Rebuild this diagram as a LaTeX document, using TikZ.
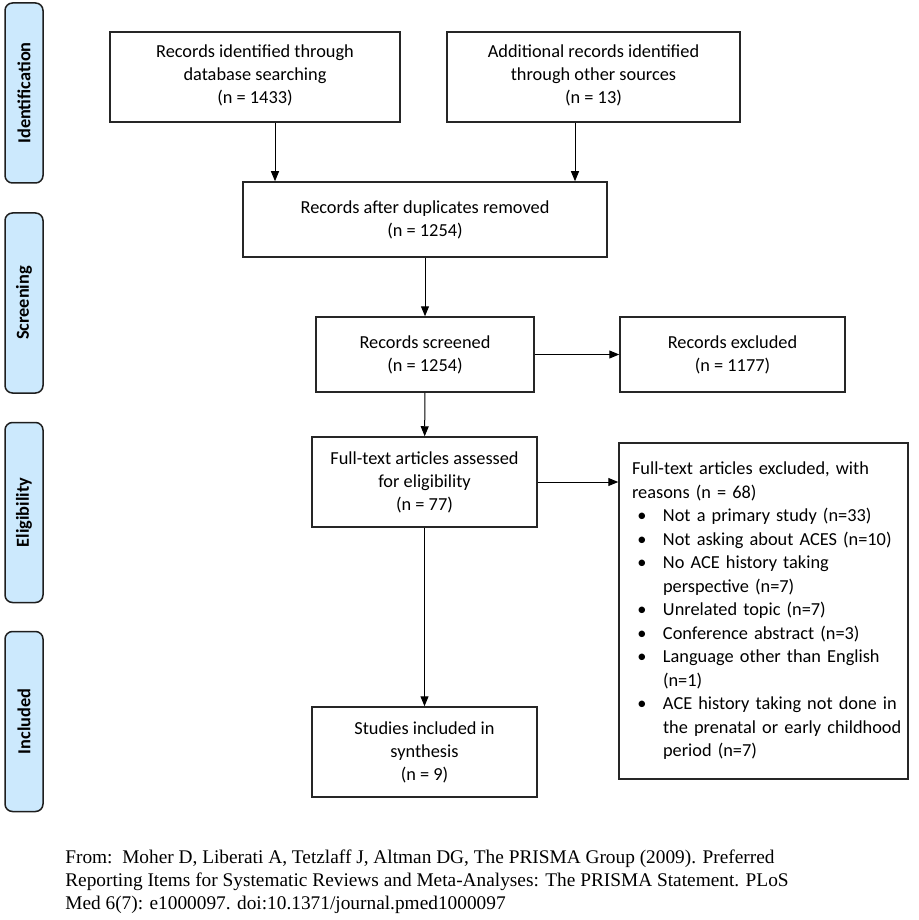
\documentclass[tikz,border=0pt]{standalone}
\usepackage{fontspec}
\setmainfont{Carlito}
\newfontfamily\timesfont{Liberation Serif}
\usetikzlibrary{arrows.meta}
\definecolor{sidefill}{RGB}{204,233,253}
\definecolor{sidedraw}{RGB}{30,30,30}
\tikzset{
  box/.style={draw=black!85, line width=0.9pt, align=center, inner sep=2pt,
    font=\fontsize{11pt}{13.8pt}\selectfont},
  side/.style={draw=sidedraw, fill=sidefill, line width=0.9pt, rounded corners=4.5pt,
    minimum width=108pt, minimum height=22.8pt, rotate=90,
    font=\bfseries\fontsize{11pt}{13.6pt}\selectfont},
  arr/.style={line width=0.6pt, -{Triangle[length=6pt,width=4.8pt]}},
}
\begin{document}
\begin{tikzpicture}[x=0.6pt,y=-0.6pt]
\useasboundingbox (0,0) rectangle (918,920);
% phase labels
\node[side] (sid) at (24,93) {Identification};
\node[side] (ssc) at (24,303) {Screening};
\node[side] (sel) at (24,512.5) {Eligibility};
\node[side] (sin) at (24,721.5) {Included};
% boxes
\node[box, minimum width=174pt, minimum height=54pt, text depth=4pt] (b1) at (255,77)
  {Records identified through\\database searching\\(n = 1433)};
\node[box, minimum width=175.8pt, minimum height=54pt, text depth=4pt] (b2) at (593.5,77)
  {Additional records identified\\through other sources\\(n = 13)};
\node[box, minimum width=218.4pt, minimum height=45pt] (dup) at (425,219.5)
  {Records after duplicates removed\\(n = 1254)};
\node[box, minimum width=130.8pt, minimum height=45pt] (scr) at (425,354.5)
  {Records screened\\(n = 1254)};
\node[box, minimum width=135pt, minimum height=45pt] (exc) at (732.5,354.5)
  {Records excluded\\(n = 1177)};
\node[box, minimum width=135pt, minimum height=54pt] (ass) at (424.5,482)
  {Full-text articles assessed\\for eligibility\\(n = 77)};
\node[box, minimum width=135pt, minimum height=54pt] (inc) at (424.5,752)
  {Studies included in\\synthesis\\(n = 9)};
\node[box, align=left, text width=157.8pt, inner xsep=7.8pt, inner ysep=0pt,
  minimum height=201.6pt] (fte) at (763.5,611)
  {\fontsize{11pt}{14.1pt}\selectfont
   \begin{tabular}{@{}l@{}l@{}}
   \multicolumn{2}{@{}l@{}}{Full-text articles excluded, with}\\
   \multicolumn{2}{@{}l@{}}{reasons (n = 68)}\\
   \makebox[18.6pt][l]{\hspace{3.2pt}\textbullet} & Not a primary study (n=33)\\
   \makebox[18.6pt][l]{\hspace{3.2pt}\textbullet} & Not asking about ACES (n=10)\\
   \makebox[18.6pt][l]{\hspace{3.2pt}\textbullet} & No ACE history taking\\
    & perspective (n=7)\\
   \makebox[18.6pt][l]{\hspace{3.2pt}\textbullet} & Unrelated topic (n=7)\\
   \makebox[18.6pt][l]{\hspace{3.2pt}\textbullet} & Conference abstract (n=3)\\
   \makebox[18.6pt][l]{\hspace{3.2pt}\textbullet} & Language other than English\\
    & (n=1)\\
   \makebox[18.6pt][l]{\hspace{3.2pt}\textbullet} & ACE history taking not done in\\
    & the prenatal or early childhood\\
    & period (n=7)
   \end{tabular}};
% arrow columns
\coordinate (c1) at (275,0);
\coordinate (c2) at (575,0);
\draw[arr] (b1.south -| c1) -- (dup.north -| c1);
\draw[arr] (b2.south -| c2) -- (dup.north -| c2);
\draw[arr] (dup) -- (scr);
\draw[arr] (scr) -- (ass);
\draw[arr] (ass) -- (inc);
\draw[arr] (scr) -- (exc);
\draw[arr] (ass.east) -- (ass.east -| fte.west);
% citation
\node[anchor=north west, inner sep=0pt, align=left,
  font=\timesfont\fontsize{11.6pt}{13.8pt}\selectfont] (cite) at (65,850)
  {From:\ \ Moher D, Liberati A, Tetzlaff J, Altman DG, The PRISMA Group (2009). Preferred\\
   Reporting Items for Systematic Reviews and Meta-Analyses: The PRISMA Statement. PLoS\\
   Med 6(7): e1000097. doi:10.1371/journal.pmed1000097};
\end{tikzpicture}
\end{document}
